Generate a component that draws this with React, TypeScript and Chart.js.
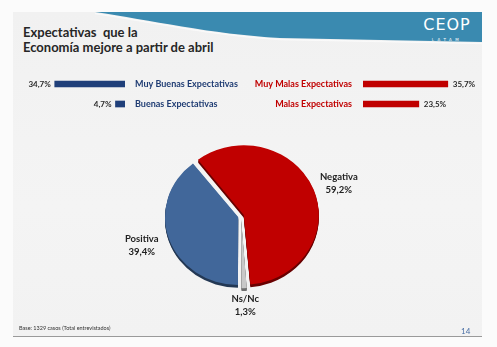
import React, { useEffect, useRef } from "react";
import { Chart, registerables } from "chart.js";

Chart.register(...registerables);

const goodCategories = ["Muy Buenas Expectativas", "Buenas Expectativas"];
const goodValues = [34.7, 4.7];
const badCategories = ["Muy Malas Expectativas", "Malas Expectativas"];
const badValues = [35.7, 23.5];
const pieCategories = ["Negativa", "Ns/Nc", "Positiva"];
const pieValues = [59.2, 1.3, 39.4];

const FONT = "Lato, 'Open Sans', sans-serif";
const PIE_SY = 0.93;
const fmt = (v: number) => v.toFixed(1).replace(".", ",") + "%";

function barValueLabels(side: "left" | "right") {
  return {
    id: "barValueLabels",
    afterDatasetsDraw(chart: any) {
      const ctx = chart.ctx;
      const meta = chart.getDatasetMeta(0);
      const data = chart.data.datasets[0].data as number[];
      ctx.save();
      ctx.font = `bold 8px ${FONT}`;
      ctx.fillStyle = "#2b2b2b";
      ctx.textBaseline = "middle";
      meta.data.forEach((bar: any, i: number) => {
        const { x, y } = bar.getProps(["x", "y"], true);
        if (side === "left") {
          ctx.textAlign = "right";
          ctx.fillText(fmt(data[i]), x - 4, y);
        } else {
          ctx.textAlign = "left";
          ctx.fillText(fmt(data[i]), x + 5, y);
        }
      });
      ctx.restore();
    },
  };
}

// perspective squash + dark rim (3D look)
const pie3d = {
  id: "pie3d",
  beforeDatasetsDraw(chart: any) {
    const c = chart.ctx;
    const meta = chart.getDatasetMeta(0);
    const first = meta.data[0];
    const { x, y } = first.getProps(["x", "y"], true);
    c.save();
    c.translate(x, y);
    c.scale(1, PIE_SY);
    c.translate(-x, -y);
    for (let k = 3; k >= 1; k--) {
      c.save();
      c.translate(0, k);
      c.filter = "brightness(0.55)";
      meta.data.forEach((a: any) => a.draw(c));
      c.restore();
    }
  },
  afterDatasetsDraw(chart: any) {
    chart.ctx.restore();
  },
};

const pieLabels = {
  id: "pieLabels",
  afterDraw(chart: any) {
    const ctx = chart.ctx;
    const meta = chart.getDatasetMeta(0);
    const labels = chart.data.labels as string[];
    const data = chart.data.datasets[0].data as number[];
    ctx.save();
    ctx.font = `bold 9.5px ${FONT}`;
    ctx.fillStyle = "#222222";
    ctx.textAlign = "center";
    ctx.textBaseline = "middle";
    meta.data.forEach((arc: any, i: number) => {
      const { x, y, startAngle, endAngle, outerRadius } = arc.getProps(
        ["x", "y", "startAngle", "endAngle", "outerRadius"],
        true
      );
      const mid = (startAngle + endAngle) / 2;
      const dx = Math.cos(mid);
      const dy = Math.sin(mid);
      const d = outerRadius + 16;
      const cx = x + dx * d + dx * 17;
      const cy = y + dy * d * PIE_SY + dy * 8;
      ctx.fillText(labels[i], cx, cy - 6.5);
      ctx.fillText(fmt(data[i]), cx, cy + 6.5);
    });
    ctx.restore();
  },
};

export default function App() {
  const goodRef = useRef<HTMLCanvasElement>(null);
  const badRef = useRef<HTMLCanvasElement>(null);
  const pieRef = useRef<HTMLCanvasElement>(null);

  useEffect(() => {
    Chart.defaults.font.family = FONT;
    const tickFont = { family: FONT, weight: "bold" as const, size: 9 };

    const good = new Chart(goodRef.current!, {
      type: "bar",
      data: {
        labels: goodCategories,
        datasets: [{ data: goodValues, backgroundColor: "#1f3f7a", barThickness: 6 }],
      },
      options: {
        indexAxis: "y",
        responsive: false,
        animation: false,
        layout: { padding: { left: 44, top: 20, bottom: 20, right: 0 } },
        scales: {
          x: { display: false, reverse: true, min: 0, max: 40 },
          y: {
            position: "right",
            grid: { display: false, drawTicks: false },
            border: { display: false },
            ticks: { color: "#1f3c73", font: tickFont, padding: 10 },
            afterFit: (s: any) => {
              s.width = 125;
            },
          },
        },
        plugins: { legend: { display: false }, tooltip: { enabled: false } },
      },
      plugins: [barValueLabels("left")],
    });

    const bad = new Chart(badRef.current!, {
      type: "bar",
      data: {
        labels: badCategories,
        datasets: [{ data: badValues, backgroundColor: "#c00000", barThickness: 6 }],
      },
      options: {
        indexAxis: "y",
        responsive: false,
        animation: false,
        layout: { padding: { left: 0, top: 20, bottom: 20, right: 39 } },
        scales: {
          x: { display: false, min: 0, max: 40 },
          y: {
            position: "left",
            grid: { display: false, drawTicks: false },
            border: { display: false },
            ticks: { color: "#c00000", font: tickFont, padding: 11 },
            afterFit: (s: any) => {
              s.width = 113;
            },
          },
        },
        plugins: { legend: { display: false }, tooltip: { enabled: false } },
      },
      plugins: [barValueLabels("right")],
    });

    const pie = new Chart(pieRef.current!, {
      type: "pie",
      data: {
        labels: pieCategories,
        datasets: [
          {
            data: pieValues,
            backgroundColor: ["#c00000", "#c8c8c8", "#41679a"],
            borderWidth: 0,
            offset: 12,
          },
        ],
      },
      options: {
        responsive: false,
        animation: false,
        rotation: -38,
        radius: 72,
        layout: { padding: 0 },
        plugins: { legend: { display: false }, tooltip: { enabled: false } },
      },
      plugins: [pie3d, pieLabels],
    });

    return () => {
      good.destroy();
      bad.destroy();
      pie.destroy();
    };
  }, []);

  return (
    <div
      style={{
        position: "absolute",
        left: 0,
        top: 0,
        width: 497,
        height: 347,
        background: "#fbfbfb",
        overflow: "hidden",
        fontFamily: FONT,
      }}
    >
      <div
        style={{
          position: "absolute",
          left: 13,
          top: 12,
          width: 469,
          height: 324,
          background: "linear-gradient(180deg, #f1f1f1 0%, #f4f4f4 60%, #f2f2f2 100%)",
          borderBottom: "1px solid #9a9a9a",
        }}
      />
      <svg width={497} height={347} style={{ position: "absolute", left: 0, top: 0 }}>
        <path d="M 95 12 C 150 20, 210 34, 280 38 L 482 42 L 482 12 Z" fill="#3a8ab0" />
        <path
          d="M 95 12 C 150 20, 210 34, 280 38 L 482 42"
          fill="none"
          stroke="#ffffff"
          strokeOpacity={0.6}
          strokeWidth={1.5}
          transform="translate(0,1.5)"
        />
      </svg>
      <div
        style={{
          position: "absolute",
          left: 421,
          top: 16,
          width: 52,
          textAlign: "center",
          color: "#ffffff",
          fontFamily: "'DejaVu Sans', sans-serif",
          fontSize: 16,
          letterSpacing: 1,
          lineHeight: "18px",
        }}
      >
        CEOP
      </div>
      <div
        style={{
          position: "absolute",
          left: 421,
          top: 37,
          width: 52,
          textAlign: "center",
          color: "#ffffff",
          fontFamily: "'DejaVu Sans', sans-serif",
          fontSize: 4,
          letterSpacing: 3.5,
          lineHeight: "6px",
        }}
      >
        LATAM
      </div>
      <div
        style={{
          position: "absolute",
          left: 23,
          top: 25,
          color: "#262626",
          fontWeight: "bold",
          fontSize: 13,
          lineHeight: "15px",
          whiteSpace: "pre",
        }}
      >
        {"Expectativas  que la\nEconomía mejore a partir de abril"}
      </div>
      <canvas
        ref={goodRef}
        width={250}
        height={80}
        style={{ position: "absolute", left: 0, top: 54, width: 250, height: 80 }}
      />
      <canvas
        ref={badRef}
        width={247}
        height={80}
        style={{ position: "absolute", left: 250, top: 54, width: 247, height: 80 }}
      />
      <canvas
        ref={pieRef}
        width={280}
        height={220}
        style={{ position: "absolute", left: 101, top: 106, width: 280, height: 220 }}
      />
      <div
        style={{
          position: "absolute",
          left: 19,
          top: 325,
          fontSize: 5.5,
          color: "#333333",
          lineHeight: "7px",
          whiteSpace: "nowrap",
        }}
      >
        Base: 1329 casos (Total entrevistados)
      </div>
      <div
        style={{
          position: "absolute",
          left: 461,
          top: 327,
          fontSize: 8,
          color: "#4a6fa5",
          lineHeight: "9px",
        }}
      >
        14
      </div>
    </div>
  );
}
